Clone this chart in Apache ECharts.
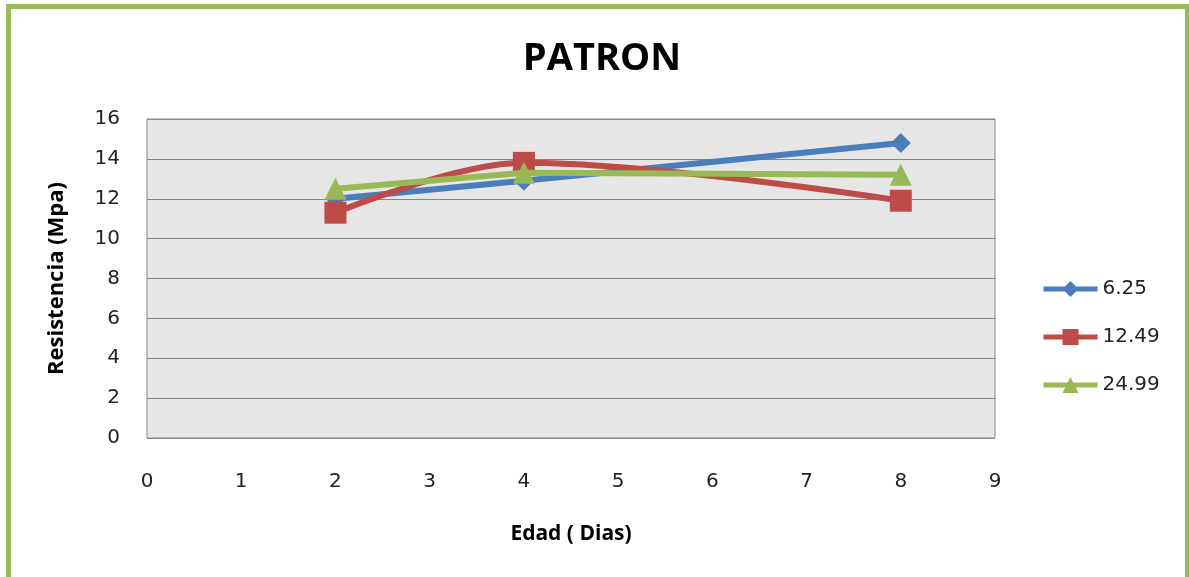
<!DOCTYPE html>
<html>
<head>
<meta charset="utf-8">
<title>PATRON</title>
<script src="https://cdn.jsdelivr.net/npm/echarts@6/dist/echarts.min.js"></script>
<style>
  html, body { margin: 0; padding: 0; background: #fff; }
  #chart { position: absolute; left: 0; top: 0; width: 1189px; height: 577px; }
  #frame {
    position: absolute; left: 6px; top: 4px; width: 1174px; height: 600px;
    border: 5px solid #9BBB59; pointer-events: none; box-sizing: content-box;
  }
</style>
</head>
<body>
<div id="chart"></div>
<div id="frame"></div>
<script>
// Edad (días) vs resistencia (MPa) for each dosage
const edades = [2, 4, 8];
const serieNombres = ['6.25', '12.49', '24.99'];
const res625 = [12.0, 12.9, 14.8];
const res1249 = [11.3, 13.8, 11.9];
const res2499 = [12.5, 13.3, 13.2];

const colores = ['#4A7EBB', '#BE4B48', '#98B954'];
const simbolos = ['diamond', 'rect', 'triangle'];
const suave = [false, true, false];
const valores = [res625, res1249, res2499];

const fuenteTexto = '"DejaVu Sans", sans-serif';
const fuenteTitulo = '"Open Sans", sans-serif';

const chart = echarts.init(document.getElementById('chart'));
chart.setOption({
  animation: false,
  backgroundColor: 'transparent',
  title: {
    text: 'PATRON',
    left: 597, top: 35, textAlign: 'center',
    textStyle: { fontFamily: fuenteTitulo, fontSize: 38, fontWeight: 'bold', color: '#000' }
  },
  legend: {
    orient: 'vertical',
    left: 1036, top: 274,
    itemWidth: 54, itemHeight: 20, itemGap: 28,
    data: serieNombres,
    lineStyle: { width: 5 },
    textStyle: { fontFamily: fuenteTexto, fontSize: 20, color: '#222' }
  },
  grid: { left: 147, right: 194, top: 119, bottom: 139, containLabel: false,
    show: true, backgroundColor: '#E6E6E6', borderColor: '#888', borderWidth: 1 },
  xAxis: {
    type: 'value', min: 0, max: 9, interval: 1,
    name: 'Edad ( Dias)', nameLocation: 'middle', nameGap: 86,
    nameTextStyle: { fontFamily: fuenteTitulo, fontSize: 21, fontWeight: 'bold', color: '#000' },
    axisLine: { show: false }, axisTick: { show: false },
    splitLine: { show: false },
    axisLabel: { fontFamily: fuenteTexto, fontSize: 20, color: '#222', margin: 34 }
  },
  yAxis: {
    type: 'value', min: 0, max: 16, interval: 2,
    name: 'Resistencia (Mpa)', nameLocation: 'middle', nameGap: 79, nameRotate: 90,
    nameTextStyle: { fontFamily: fuenteTitulo, fontSize: 22, fontWeight: 'bold', color: '#000' },
    axisLine: { show: false }, axisTick: { show: false },
    splitLine: { show: true, lineStyle: { color: '#888', width: 1 } },
    axisLabel: { fontFamily: fuenteTexto, fontSize: 20, color: '#222', margin: 27 }
  },
  series: serieNombres.map((nombre, i) => ({
    name: nombre,
    type: 'line',
    data: edades.map((x, j) => [x, valores[i][j]]),
    smooth: suave[i] ? 0.35 : false,
    symbol: simbolos[i],
    symbolSize: i === 0 ? 20 : 22,
    showAllSymbol: true,
    itemStyle: { color: colores[i] },
    lineStyle: { color: colores[i], width: 6 },
    z: 2 + (i === 2 ? 1 : 0)
  }))
});
</script>
</body>
</html>
